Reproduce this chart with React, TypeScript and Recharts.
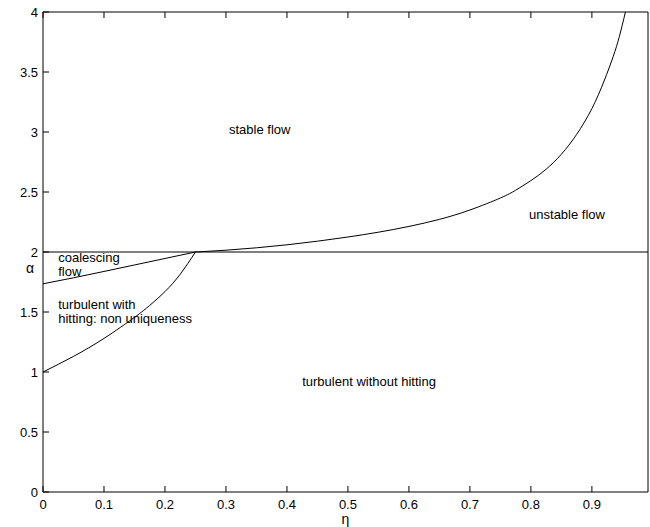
import React from 'react';
import { LineChart, Line, XAxis, YAxis, ReferenceLine, ReferenceDot } from 'recharts';

const FONT = '"Liberation Sans", Arial, Helvetica, sans-serif';

const X_TICKS = [0, 0.1, 0.2, 0.3, 0.4, 0.5, 0.6, 0.7, 0.8, 0.9];
const Y_TICKS = [0, 0.5, 1, 1.5, 2, 2.5, 3, 3.5, 4];

// boundary between stable and unstable flow
const unstableBoundary = [
  { eta: 0.25, a: 2.0 },
  { eta: 0.3, a: 2.015 },
  { eta: 0.35, a: 2.035 },
  { eta: 0.4, a: 2.06 },
  { eta: 0.45, a: 2.09 },
  { eta: 0.5, a: 2.125 },
  { eta: 0.55, a: 2.165 },
  { eta: 0.6, a: 2.213 },
  { eta: 0.65, a: 2.272 },
  { eta: 0.7, a: 2.35 },
  { eta: 0.75, a: 2.45 },
  { eta: 0.775, a: 2.515 },
  { eta: 0.8, a: 2.595 },
  { eta: 0.825, a: 2.69 },
  { eta: 0.85, a: 2.815 },
  { eta: 0.875, a: 2.98 },
  { eta: 0.9, a: 3.195 },
  { eta: 0.92, a: 3.425 },
  { eta: 0.935, a: 3.63 },
  { eta: 0.945, a: 3.795 },
  { eta: 0.955, a: 4.0 },
];

// lower edge of the coalescing region
const coalescingBoundary = [
  { eta: 0, a: 1.735 },
  { eta: 0.05, a: 1.785 },
  { eta: 0.1, a: 1.838 },
  { eta: 0.15, a: 1.892 },
  { eta: 0.2, a: 1.946 },
  { eta: 0.25, a: 2.0 },
];

// hitting / no hitting boundary
const hittingBoundary = [
  { eta: 0, a: 1.0 },
  { eta: 0.05, a: 1.13 },
  { eta: 0.1, a: 1.28 },
  { eta: 0.15, a: 1.455 },
  { eta: 0.175, a: 1.555 },
  { eta: 0.2, a: 1.67 },
  { eta: 0.225, a: 1.815 },
  { eta: 0.25, a: 2.0 },
];

const regionLabels = [
  { eta: 0.305, a: 3.02, lines: ['stable flow'] },
  { eta: 0.797, a: 2.31, lines: ['unstable flow'] },
  { eta: 0.025, a: 1.95, lines: ['coalescing', 'flow'] },
  { eta: 0.025, a: 1.56, lines: ['turbulent with', 'hitting: non uniqueness'] },
  { eta: 0.425, a: 0.92, lines: ['turbulent without hitting'] },
];

const TICK_LEN = 6;

const BottomTick = (props: any) => {
  const { x, y, payload } = props;
  return (
    <g>
      <line x1={x} y1={y} x2={x} y2={y - TICK_LEN} stroke="#000" />
      <text x={x} y={y + 17} textAnchor="middle" fontSize={13} fontFamily={FONT} fill="#000">
        {payload.value}
      </text>
    </g>
  );
};

const TopTick = (props: any) => {
  const { x, y } = props;
  return <line x1={x} y1={y} x2={x} y2={y + TICK_LEN} stroke="#000" />;
};

const LeftTick = (props: any) => {
  const { x, y, payload } = props;
  return (
    <g>
      <line x1={x} y1={y} x2={x + TICK_LEN} y2={y} stroke="#000" />
      <text x={x - 5} y={y + 5} textAnchor="end" fontSize={13} fontFamily={FONT} fill="#000">
        {payload.value}
      </text>
    </g>
  );
};

const RightTick = (props: any) => {
  const { x, y } = props;
  return <line x1={x} y1={y} x2={x - TICK_LEN} y2={y} stroke="#000" />;
};

const regionText = (lines: string[]) => (p: any) => (
  <text x={p.cx} y={p.cy} fontSize={13} fontFamily={FONT} fill="#000">
    {lines.map((l, i) => (
      <tspan key={i} x={p.cx} dy={i === 0 ? 4 : 14}>
        {l}
      </tspan>
    ))}
  </text>
);

export default function App() {
  return (
    <div style={{ position: 'fixed', left: 0, top: 0, background: '#fff' }}>
      <LineChart width={650} height={527} margin={{ top: 11, right: 1, bottom: 5, left: 8 }}>
        <XAxis
          dataKey="eta"
          type="number"
          domain={[0, 0.992]}
          ticks={X_TICKS}
          allowDataOverflow
          stroke="#000"
          tickLine={false}
          tickSize={0}
          tickMargin={0}
          tick={<BottomTick />}
          height={30}
          label={{ value: 'η', position: 'insideBottom', offset: -2, fontSize: 14, fontFamily: FONT, fill: '#000' }}
        />
        <XAxis
          xAxisId="top"
          orientation="top"
          dataKey="eta"
          type="number"
          domain={[0, 0.992]}
          ticks={X_TICKS}
          allowDataOverflow
          stroke="#000"
          tickLine={false}
          tickSize={0}
          tickMargin={0}
          tick={<TopTick />}
          height={1}
        />
        <YAxis
          type="number"
          domain={[0, 4]}
          ticks={Y_TICKS}
          allowDataOverflow
          stroke="#000"
          tickLine={false}
          tickSize={0}
          tickMargin={0}
          tick={<LeftTick />}
          width={35}
          label={{ value: 'α', position: 'insideLeft', offset: 18, dy: 16, fontSize: 14, fontFamily: FONT, fill: '#000' }}
        />
        <YAxis
          yAxisId="right"
          orientation="right"
          type="number"
          domain={[0, 4]}
          ticks={Y_TICKS}
          stroke="#000"
          tickLine={false}
          tickSize={0}
          tickMargin={0}
          tick={<RightTick />}
          width={1}
        />
        <ReferenceLine y={2} stroke="#000" strokeWidth={1} />
        <Line data={unstableBoundary} dataKey="a" stroke="#000" strokeWidth={1} dot={false} type="natural" isAnimationActive={false} />
        <Line data={coalescingBoundary} dataKey="a" stroke="#000" strokeWidth={1} dot={false} type="natural" isAnimationActive={false} />
        <Line data={hittingBoundary} dataKey="a" stroke="#000" strokeWidth={1} dot={false} type="natural" isAnimationActive={false} />
        {regionLabels.map((r, i) => (
          <ReferenceDot key={i} x={r.eta} y={r.a} r={0} shape={regionText(r.lines)} />
        ))}
      </LineChart>
    </div>
  );
}
